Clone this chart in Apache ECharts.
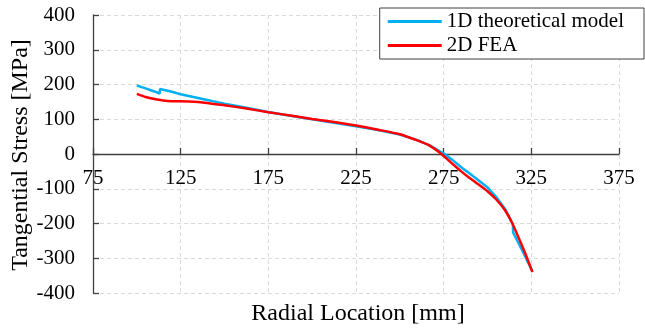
<!DOCTYPE html>
<html>
<head>
<meta charset="utf-8">
<script src="https://cdn.jsdelivr.net/npm/echarts@6/dist/echarts.min.js"></script>
<style>
html,body{margin:0;padding:0;background:#fff;}
#chart{width:645px;height:329px;}
</style>
</head>
<body>
<div id="chart"></div>
<script>
// Data
const seriesNames = ['1D theoretical model', '2D FEA'];
const modelX = [100, 105, 110, 113, 113.2, 120, 125, 137.5, 150, 162.5, 175, 187.5, 200, 212.5, 225, 237.5, 250, 260, 267, 275.5, 280, 285, 290, 295, 300, 305, 310, 314.5, 314.6, 320, 325.6];
const modelY = [197, 189, 180, 174, 187, 179, 172, 158, 145, 133, 121, 110, 100, 90, 80, 69, 56, 40, 25, 0, -17, -38, -57, -76, -96, -124, -158, -203, -226, -280, -337];
const feaX = [100, 105, 110, 115, 120, 130, 140, 150, 162.5, 175, 187.5, 200, 212.5, 225, 237.5, 250, 260, 267, 273.7, 280, 285, 290, 295, 300, 305, 310, 314, 318, 322, 325.6];
const feaY = [173, 164, 158, 154, 152, 151, 147, 140, 131, 120, 111, 101, 92, 82, 70, 57, 39, 24, 0, -28, -50, -70, -88, -107, -131, -162, -198, -244, -292, -340];
const xTicks = [75, 125, 175, 225, 275, 325, 375];
const yTicks = [-400, -300, -200, -100, 0, 100, 200, 300, 400];
const xTitle = 'Radial Location [mm]';
const yTitle = 'Tangential Stress [MPa]';

const FONT = '"Liberation Serif", "Times New Roman", serif';
const zip = (xs, ys) => xs.map((x, i) => [x, ys[i]]);
const GRID_H = 278;
const yMin = yTicks[0], yMax = yTicks[yTicks.length - 1];
// shift the x axis (line, ticks, labels) up to the y = 0 level
const zeroOffset = -GRID_H * (0 - yMin) / (yMax - yMin);

const chart = echarts.init(document.getElementById('chart'), null, {renderer: 'canvas'});
chart.setOption({
  animation: false,
  backgroundColor: '#fff',
  grid: {left: 93, top: 15, width: 526, height: GRID_H, containLabel: false, outerBoundsMode: 'none'},
  xAxis: {
    type: 'value',
    position: 'bottom',
    offset: zeroOffset,
    min: xTicks[0], max: xTicks[xTicks.length - 1], interval: 50,
    axisLine: {show: true, onZero: false, lineStyle: {color: '#404040', width: 1.3}},
    axisTick: {show: true, inside: true, length: 6, lineStyle: {color: '#404040', width: 1.3}},
    axisLabel: {margin: 14, color: '#000', fontSize: 21, fontFamily: FONT, showMinLabel: true, showMaxLabel: true},
    splitLine: {show: true, lineStyle: {color: '#d9d9d9', type: [4, 3], width: 1}}
  },
  yAxis: {
    type: 'value',
    min: yMin, max: yMax, interval: 100,
    axisLine: {show: true, onZero: false, lineStyle: {color: '#404040', width: 1.3}},
    axisTick: {show: true, inside: true, length: 6, lineStyle: {color: '#404040', width: 1.3}},
    axisLabel: {margin: 18, color: '#000', fontSize: 21, fontFamily: FONT},
    splitLine: {show: true, lineStyle: {color: '#d9d9d9', type: [4, 3], width: 1}}
  },
  legend: {
    data: seriesNames,
    orient: 'vertical',
    right: 1, top: 8,
    backgroundColor: '#fff',
    borderColor: '#404040', borderWidth: 1,
    padding: [3, 20, 3, 8],
    itemWidth: 54, itemHeight: 3, itemGap: 3,
    icon: 'rect',
    textStyle: {color: '#000', fontSize: 21, fontFamily: FONT, lineHeight: 20}
  },
  graphic: [{
    type: 'text',
    x: 358, y: 314,
    style: {text: xTitle, fill: '#000', font: '24px ' + FONT, align: 'center', verticalAlign: 'middle'}
  }, {
    type: 'text',
    x: 21, y: 155,
    rotation: Math.PI / 2,
    style: {text: yTitle, fill: '#000', font: '24px ' + FONT, align: 'center', verticalAlign: 'middle'}
  }],
  series: [
    {
      name: seriesNames[0], type: 'line', data: zip(modelX, modelY),
      showSymbol: false, symbol: 'none',
      lineStyle: {color: '#00b0f0', width: 2.5}, itemStyle: {color: '#00b0f0'}
    },
    {
      name: seriesNames[1], type: 'line', data: zip(feaX, feaY),
      showSymbol: false, symbol: 'none', smooth: 0.2,
      lineStyle: {color: '#ff0000', width: 2.5}, itemStyle: {color: '#ff0000'}
    }
  ]
});
</script>
</body>
</html>
